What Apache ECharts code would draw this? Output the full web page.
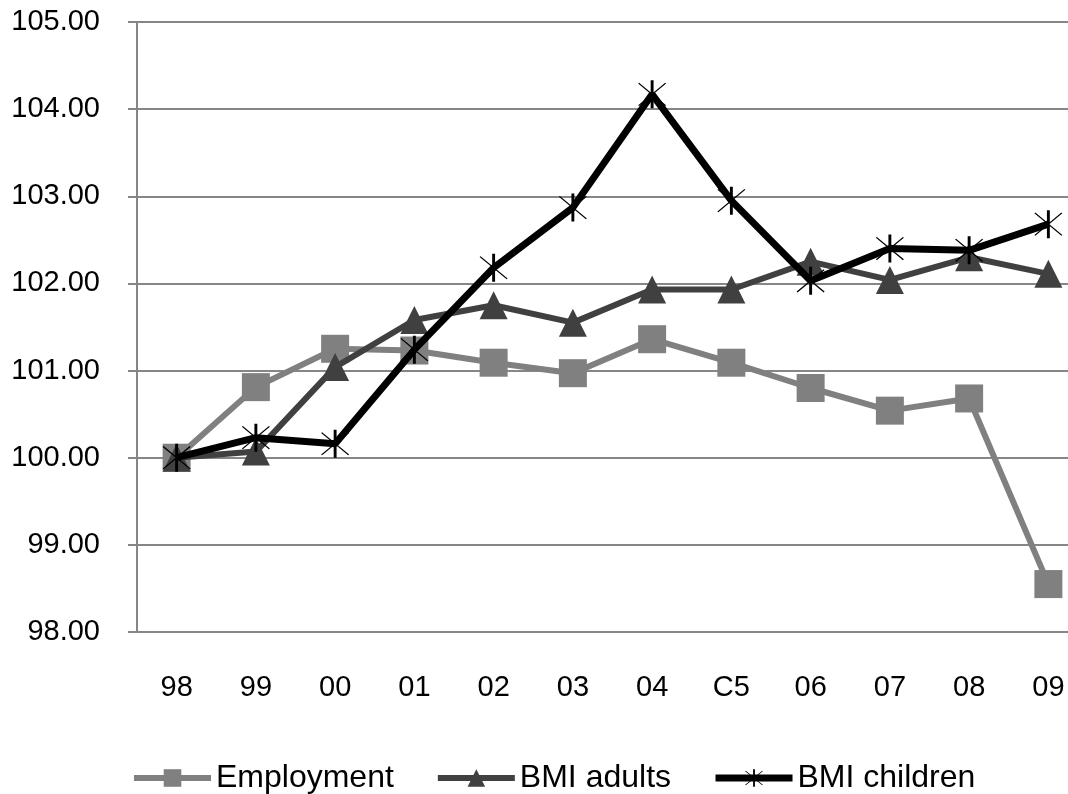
<!DOCTYPE html>
<html>
<head>
<meta charset="utf-8">
<script src="https://cdn.jsdelivr.net/npm/echarts@6/dist/echarts.min.js"></script>
<style>
  html, body { margin: 0; padding: 0; background: #ffffff; overflow: hidden; }
  /* the plot continues a little past the right edge of the window */
  #chart { width: 1088px; height: 794px; }
</style>
</head>
<body>
<div id="chart"></div>
<script>
// Years on the category axis
const years = ['98', '99', '00', '01', '02', '03', '04', 'C5', '06', '07', '08', '09'];

// Index values (base = 100)
const employment = [100.00, 100.81, 101.25, 101.23, 101.09, 100.97, 101.36, 101.09, 100.80, 100.54, 100.68, 98.55];
const bmiAdults = [100.00, 100.07, 101.04, 101.58, 101.75, 101.55, 101.93, 101.93, 102.25, 102.04, 102.30, 102.11];
const bmiChildren = [100.00, 100.23, 100.16, 101.24, 102.18, 102.87, 104.17, 102.95, 102.03, 102.40, 102.38, 102.68];

// Y-axis range
const yMin = 98, yMax = 105, yStep = 1;

// Asterisk marker: a vertical bar plus two thin diagonals
const asterisk = 'path://M12.8,0L15.2,0L15.2,28L12.8,28Z' +
  'M2.4,3.2L3.2,2.4L25.6,24.8L24.8,25.6Z' +
  'M24.8,2.4L25.6,3.2L3.2,25.6L2.4,24.8Z';

const fontFamily = '"Liberation Sans", Arial, sans-serif';

const chart = echarts.init(document.getElementById('chart'), null, { renderer: 'canvas' });

chart.setOption({
  backgroundColor: '#ffffff',
  animation: false,
  grid: { left: 137, right: 0, top: 22, bottom: 162, containLabel: false },
  legend: {
    left: 131,
    top: 762,
    padding: 0,
    itemWidth: 77,
    itemHeight: 22,
    itemGap: 41,
    textStyle: { fontFamily: fontFamily, fontSize: 32, color: '#000000' },
    data: [
      { name: 'Employment', lineStyle: { width: 6 } },
      { name: 'BMI adults', lineStyle: { width: 6 } },
      { name: 'BMI children', lineStyle: { width: 7 } }
    ]
  },
  xAxis: {
    type: 'category',
    data: years,
    boundaryGap: true,
    axisLine: { show: false },
    axisTick: { show: false },
    axisLabel: { margin: 41, fontFamily: fontFamily, fontSize: 29, color: '#000000' },
    splitLine: { show: false }
  },
  yAxis: {
    type: 'value',
    min: yMin,
    max: yMax,
    interval: yStep,
    axisLine: { show: true, lineStyle: { color: '#868686', width: 2 } },
    axisTick: { show: true, length: 9, lineStyle: { color: '#868686', width: 2 } },
    axisLabel: {
      margin: 37,
      fontFamily: fontFamily,
      fontSize: 29,
      color: '#000000',
      formatter: v => v.toFixed(2)
    },
    splitLine: { show: true, lineStyle: { color: '#868686', width: 2 } }
  },
  series: [
    {
      name: 'Employment',
      type: 'line',
      data: employment,
      symbol: 'rect',
      symbolSize: 28,
      lineStyle: { color: '#808080', width: 6 },
      itemStyle: { color: '#808080' },
      z: 2
    },
    {
      name: 'BMI adults',
      type: 'line',
      data: bmiAdults,
      symbol: 'triangle',
      symbolSize: 28,
      lineStyle: { color: '#404040', width: 6 },
      itemStyle: { color: '#404040' },
      z: 3
    },
    {
      name: 'BMI children',
      type: 'line',
      data: bmiChildren,
      symbol: asterisk,
      symbolSize: 28,
      lineStyle: { color: '#000000', width: 7 },
      itemStyle: { color: '#000000' },
      z: 4
    }
  ]
});
</script>
</body>
</html>
